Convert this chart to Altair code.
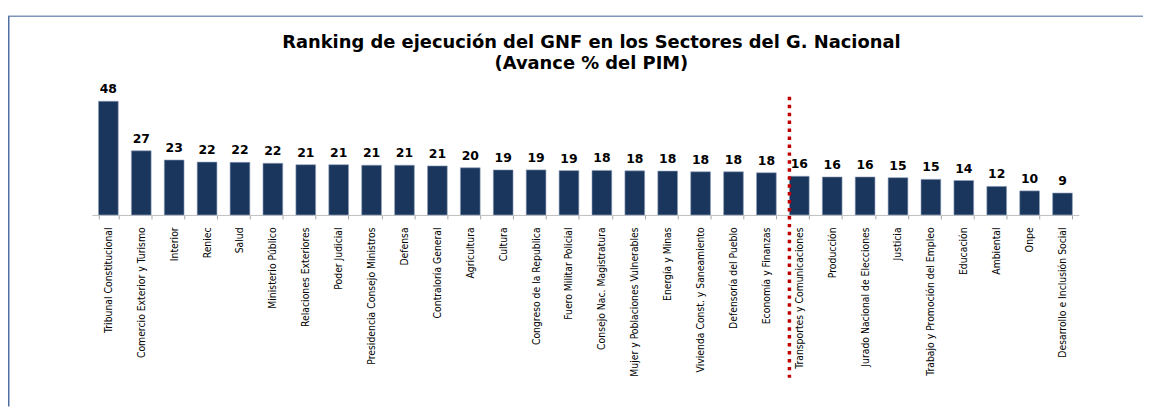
import altair as alt
import pandas as pd

sectores = [
    "Tribunal Constitucional", "Comercio Exterior y Turismo", "Interior", "Reniec", "Salud",
    "Ministerio Público", "Relaciones Exteriores", "Poder Judicial", "Presidencia Consejo Ministros",
    "Defensa", "Contraloría General", "Agricultura", "Cultura", "Congreso de la Republica",
    "Fuero Militar Policial", "Consejo Nac. Magistratura", "Mujer y Poblaciones Vulnerables",
    "Energía y Minas", "Vivienda Const. y Saneamiento", "Defensoría del Pueblo",
    "Economía y Finanzas", "Transportes y Comunicaciones", "Producción",
    "Jurado Nacional de Elecciones", "Justicia", "Trabajo y Promoción del Empleo",
    "Educación", "Ambiental", "Onpe", "Desarrollo e Inclusión Social",
]
avance = [48.2, 27.2, 23.3, 22.4, 22.3, 21.9, 21.3, 21.3, 21.1, 21.1, 20.8, 20.0, 19.1, 19.1,
          18.8, 18.9, 18.7, 18.6, 18.3, 18.3, 17.9, 16.4, 16.1, 16.1, 15.8, 15.1, 14.6, 12.1,
          10.2, 9.3]
etiquetas = [48, 27, 23, 22, 22, 22, 21, 21, 21, 21, 21, 20, 19, 19, 19, 18, 18, 18, 18, 18, 18,
             16, 16, 16, 15, 15, 14, 12, 10, 9]
corte = ["Transportes y Comunicaciones"]
titulo = ["Ranking de ejecución del GNF en los Sectores del G. Nacional", "(Avance %  del PIM)"]

df = pd.DataFrame({"sector": sectores, "avance": avance, "etiqueta": etiquetas})
df_corte = pd.DataFrame({"sector": corte})
df_t1 = pd.DataFrame({"t": [titulo[0]]})
df_t2 = pd.DataFrame({"t": [titulo[1]]})

W, H = 994, 114
PAD_L, PAD_T, PAD_R, PAD_B = 84.5, 93, 64.5, 193

xenc = alt.X("sector:N", sort=sectores, title=None,
             scale=alt.Scale(paddingInner=0.4, paddingOuter=0.2),
             axis=alt.Axis(labelAngle=-90, labelFont="DejaVu Sans Condensed, sans-serif",
                           labelFontSize=10.4, labelColor="#000000", labelPadding=8,
                           tickSize=4, tickBand="extent", tickColor="#a6a6a6",
                           domainColor="#bfbfbf", labelLimit=300, labelOverlap=False))
yenc = alt.Y("avance:Q", scale=alt.Scale(domain=[0, 48], nice=False, zero=True), axis=None)

bars = alt.Chart(df).mark_bar(color="#1b365d", stroke="#8ea0bb", strokeWidth=0.6).encode(x=xenc, y=yenc)

labels = alt.Chart(df).mark_text(font="DejaVu Sans", fontWeight="bold", fontSize=12.5,
                                 baseline="middle", dy=-12, color="#000000").encode(
    x=alt.X("sector:N", sort=sectores), y="avance:Q", text="etiqueta:N")

linea = alt.Chart(df_corte).mark_rule(color="#c00000", strokeWidth=3.5, strokeDash=[3.5, 4.5]).encode(
    x=alt.X("sector:N", sort=sectores, bandPosition=0),
    y=alt.value(-5), y2=alt.value(278))

borde_sup = alt.Chart(df_corte).mark_rule(color="#8096bb", strokeWidth=1.5).encode(
    x=alt.value(-PAD_L), x2=alt.value(W + PAD_R), y=alt.value(15 - 8 - PAD_T))
borde_izq = alt.Chart(df_corte).mark_rule(color="#4f6fa3", strokeWidth=1.5).encode(
    x=alt.value(-PAD_L + 0.75), y=alt.value(15 - 8 - PAD_T), y2=alt.value(H + PAD_B))

tit_style = dict(font="DejaVu Sans", fontSize=18, fontWeight="bold", color="#000000",
                 align="center", baseline="middle")
t1 = alt.Chart(df_t1).mark_text(**tit_style).encode(
    x=alt.value(W / 2 + 6), y=alt.value(42 - 101), text="t:N")
t2 = alt.Chart(df_t2).mark_text(**tit_style).encode(
    x=alt.value(W / 2 + 6), y=alt.value(63 - 101), text="t:N")

chart = alt.layer(bars, labels, linea, borde_sup, borde_izq, t1, t2).properties(
    width=W, height=H,
    autosize=alt.AutoSizeParams(type="none"),
    padding={"left": PAD_L, "top": PAD_T, "right": PAD_R, "bottom": PAD_B},
    background="#ffffff",
).configure_view(stroke=None)

chart.save("out.html", embed_options={"renderer": "svg", "actions": False})
